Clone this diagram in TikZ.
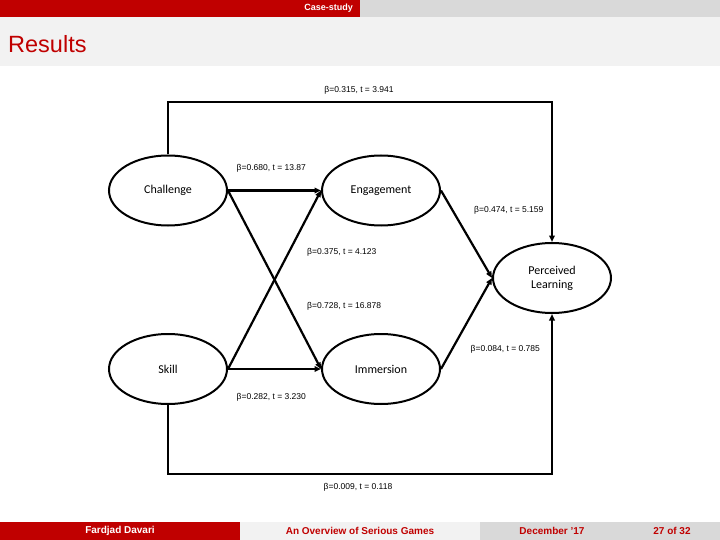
\documentclass[tikz,border=0pt]{standalone}
\usepackage{fontspec}
\setmainfont{Liberation Sans}
\newfontfamily\bubblefont{Carlito}
\usetikzlibrary{arrows.meta,shapes.geometric}
\definecolor{themered}{HTML}{C00000}
\definecolor{bandgray}{HTML}{F2F2F2}
\definecolor{bargray}{HTML}{D9D9D9}
\begin{document}
\begin{tikzpicture}[x=1pt,y=-1pt,
  construct/.style={draw, ellipse, line width=2pt, minimum width=118pt,
    minimum height=70pt, inner sep=0pt,
    font=\bubblefont\fontsize{12}{14}\selectfont},
  link/.style={line width=2.2pt, -{Triangle[length=6.5pt,width=5.5pt]}},
  coef/.style={font=\fontsize{8.5}{10}\selectfont, inner sep=0pt},
  footbox/.style={font=\bfseries\fontsize{10}{12}\selectfont, inner sep=0pt}]
\useasboundingbox (0,0) rectangle (720,540);
\fill[white] (0,0) rectangle (720,540);

% header bars and frame title
\fill[themered] (0,0) rectangle (360,17);
\fill[bargray] (360,0) rectangle (720,17);
\node[white, font=\bfseries\fontsize{9}{10}\selectfont, anchor=east, inner sep=0pt] (sect) at (353,8.5) {Case-study};
\fill[bandgray] (0,17) rectangle (720,66);
\node[themered, font=\fontsize{23.5}{28}\selectfont, anchor=base west, inner sep=0pt] (title) at (8,52.7) {Results};

% constructs
\node[construct] (chal) at (168,190.5) {Challenge};
\node[construct] (eng) at (381,190.5) {Engagement};
\node[construct] (skill) at (168,369) {Skill};
\node[construct] (imm) at (381,369) {Immersion};
\node[construct, align=center] (pl) at (552,278) {Perceived\\Learning};

% paths
\draw[link] (chal.east) -- (eng.west);
\draw[link] (chal.east) -- (imm.west);
\draw[link] (skill.east) -- (eng.west);
\draw[link] (skill.east) -- (imm.west);
\draw[link] (eng.east) -- (pl.west);
\draw[link] (imm.east) -- (pl.west);
\coordinate (topleft) at (168,102);
\coordinate (botleft) at (168,474);
\draw[link] (chal.north) -- (topleft) -| (pl.north);
\draw[link] (skill.south) -- (botleft) -| (pl.south);

% path coefficients
\node[coef] (c1) at (359,90) {β=0.315, t = 3.941};
\node[coef, anchor=west] (c2) at (236.5,168) {β=0.680, t = 13.87};
\node[coef, anchor=west] (c3) at (474,210.5) {β=0.474, t = 5.159};
\node[coef, anchor=west] (c4) at (307,252.3) {β=0.375, t = 4.123};
\node[coef, anchor=west] (c5) at (307,306) {β=0.728, t = 16.878};
\node[coef, anchor=west] (c6) at (470.5,349) {β=0.084, t = 0.785};
\node[coef, anchor=west] (c7) at (236.5,397.3) {β=0.282, t = 3.230};
\node[coef] (c8) at (358,487.3) {β=0.009, t = 0.118};

% footer
\fill[themered] (0,522) rectangle (240,540);
\fill[bandgray] (240,522) rectangle (480,540);
\fill[bargray] (480,522) rectangle (624,540);
\fill[bargray] (624,522) rectangle (720,540);
\node[footbox, white] (author) at (120,531) {Fardjad Davari};
\node[footbox, themered] (talk) at (360,531) {An Overview of Serious Games};
\node[footbox, themered] (date) at (552,531) {December ’17};
\node[footbox, themered] (page) at (672,531) {27 of 32};
\end{tikzpicture}
\end{document}
